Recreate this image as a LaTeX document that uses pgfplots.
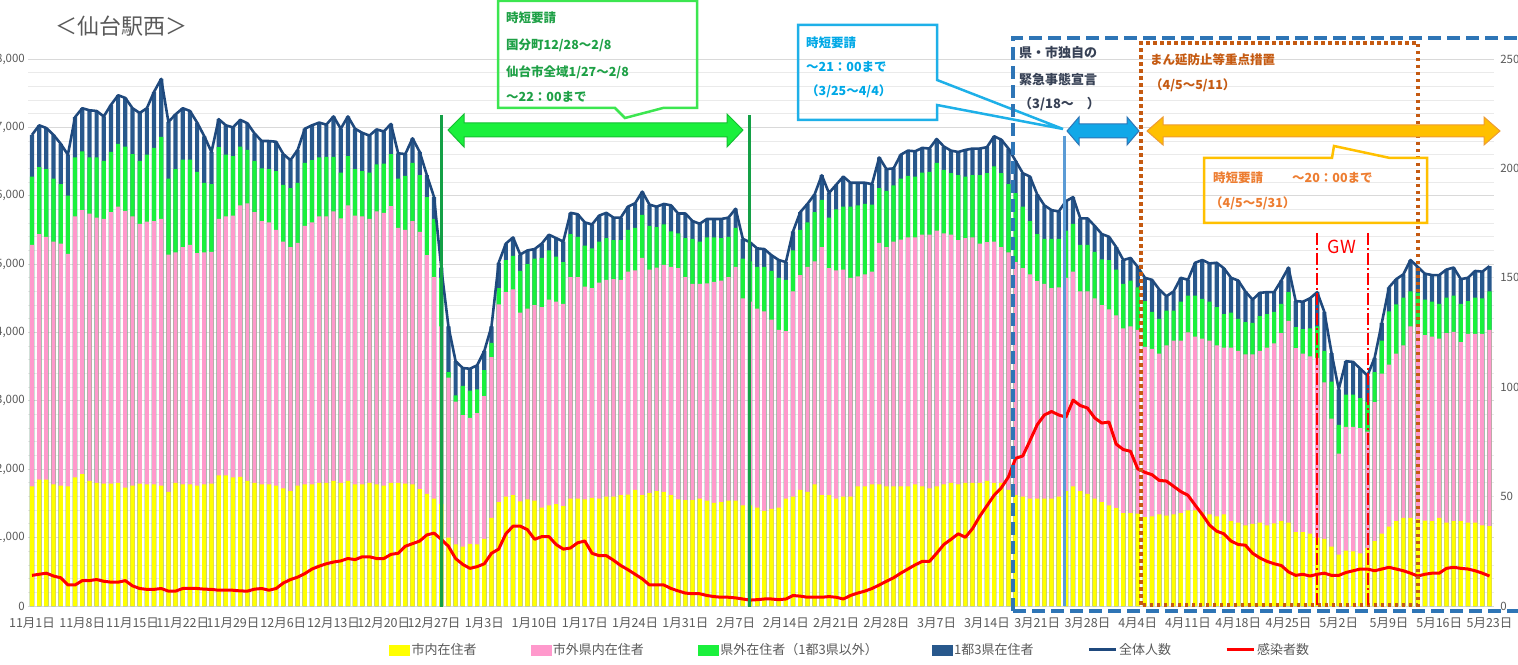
\documentclass[border=0pt]{standalone}
\usepackage{fontspec}
\setmainfont{Noto Sans CJK JP}
\usepackage{pgfplots}
\pgfplotsset{compat=1.18}
\usepackage{pgfplotstable}

\definecolor{cYel}{RGB}{255,255,0}
\definecolor{cPink}{RGB}{255,153,204}
\definecolor{cGreen}{RGB}{26,240,60}
\definecolor{cNavy}{RGB}{40,88,140}
\definecolor{cLine}{RGB}{31,73,125}
\definecolor{cGrey}{RGB}{89,89,89}
\definecolor{cGrid}{RGB}{217,217,217}
\definecolor{cGrid2}{RGB}{234,234,234}
\definecolor{cGline}{RGB}{20,160,70}
\definecolor{cGtext}{RGB}{30,160,70}
\definecolor{cGbox}{RGB}{60,230,80}
\definecolor{cGdark}{RGB}{20,190,50}
\definecolor{cBtext}{RGB}{0,168,230}
\definecolor{cBbox}{RGB}{30,176,232}
\definecolor{cBdash}{RGB}{46,117,182}
\definecolor{cBline}{RGB}{91,155,213}
\definecolor{cBfill}{RGB}{17,168,232}
\definecolor{cSlate}{RGB}{55,65,85}
\definecolor{cOdot}{RGB}{197,90,17}
\definecolor{cOfill}{RGB}{255,192,0}
\definecolor{cOedge}{RGB}{237,155,51}
\definecolor{cOtext}{RGB}{237,125,49}

% d = days since 11/1; Y,P,G,T = cumulative bar tops; R = infections (right axis)
\pgfplotstableread{
d Y P G T R
0 1750 5280 6280 6890 14.0
1 1850 5440 6420 7030 14.5
2 1850 5400 6390 6990 15.0
3 1780 5330 6250 6890 13.7
4 1760 5300 6170 6760 12.9
5 1750 5150 6000 6600 9.6
6 1880 5700 6560 7150 9.6
7 1930 5790 6650 7280 11.6
8 1830 5740 6560 7250 11.6
9 1800 5680 6560 7240 12.1
10 1790 5660 6510 7160 11.3
11 1790 5760 6640 7330 10.9
12 1800 5840 6760 7470 10.9
13 1730 5780 6720 7430 11.6
14 1760 5700 6610 7280 9.2
15 1790 5590 6510 7210 8.0
16 1780 5620 6600 7280 7.6
17 1780 5630 6700 7520 7.6
18 1760 5660 6860 7710 8.0
19 1670 5140 6250 7080 6.8
20 1800 5170 6390 7190 6.8
21 1780 5250 6530 7280 8.0
22 1780 5280 6530 7240 8.0
23 1760 5160 6350 7070 8.0
24 1780 5170 6190 6870 7.7
25 1790 5180 6170 6640 7.6
26 1910 5660 6710 7120 7.2
27 1910 5700 6600 7030 7.2
28 1880 5710 6580 7000 7.2
29 1890 5860 6720 7110 6.9
30 1830 5890 6670 7060 6.8
31 1800 5760 6510 6910 7.7
32 1780 5630 6400 6800 8.0
33 1780 5610 6390 6800 7.2
34 1760 5500 6360 6790 8.0
35 1720 5330 6160 6610 10.5
36 1680 5250 6110 6520 12.1
37 1760 5310 6190 6670 13.2
38 1780 5560 6480 6980 14.8
39 1780 5610 6520 7030 16.9
40 1800 5700 6560 7070 18.2
41 1800 5700 6570 7040 19.3
42 1830 5770 6570 7160 20.1
43 1800 5670 6340 6980 20.6
44 1830 5860 6580 7160 21.7
45 1780 5710 6390 6980 21.2
46 1780 5700 6360 6920 22.5
47 1800 5660 6340 6880 22.5
48 1780 5770 6460 6970 21.7
49 1760 5750 6470 6940 21.7
50 1800 5850 6610 7050 23.6
51 1800 5530 6250 6620 24.1
52 1790 5500 6290 6610 27.3
53 1780 5630 6480 6840 28.5
54 1710 5470 6300 6640 29.7
55 1640 5130 5980 6300 32.5
56 1570 4810 5660 5980 33.3
57 1490 4090 4800 4950 30.5
58 1000 3340 3420 4090 27.3
59 900 2990 3080 3580 21.7
60 870 2790 3220 3480 19.0
61 910 2750 3150 3470 17.2
62 900 2820 3170 3520 18.0
63 980 3070 3450 3730 19.3
64 1290 3640 3850 4090 24.1
65 1520 4410 4650 5020 26.0
66 1600 4590 5060 5300 33.0
67 1620 4630 5120 5390 36.5
68 1530 4290 4900 5140 36.5
69 1560 4350 5000 5200 34.9
70 1540 4400 5080 5220 30.5
71 1440 4370 5090 5300 31.7
72 1470 4480 5200 5430 31.7
73 1490 4450 5110 5380 28.1
74 1460 4420 5030 5330 26.0
75 1570 4810 5440 5750 26.5
76 1570 4810 5400 5730 28.9
77 1560 4670 5270 5610 29.7
78 1580 4650 5230 5580 24.1
79 1570 4730 5330 5710 23.0
80 1600 4770 5380 5750 23.0
81 1600 4780 5350 5680 20.9
82 1620 4770 5350 5680 18.5
83 1630 4890 5500 5840 16.6
84 1700 4910 5530 5890 14.5
85 1620 5090 5720 6060 12.4
86 1650 4920 5560 5870 9.6
87 1680 4950 5540 5840 9.6
88 1670 4990 5580 5880 9.6
89 1620 4960 5480 5860 8.0
90 1560 4940 5450 5740 6.9
91 1550 4810 5380 5740 5.9
92 1550 4710 5370 5630 5.6
93 1570 4710 5330 5590 5.6
94 1540 4720 5390 5660 4.8
95 1510 4740 5390 5660 4.3
96 1520 4760 5380 5660 4.0
97 1540 4810 5400 5680 4.0
98 1540 4960 5530 5810 3.7
99 1470 4500 5080 5370 3.2
100 1470 4450 5040 5320 2.7
101 1440 4350 4960 5230 2.9
102 1390 4310 4960 5220 3.2
103 1420 4190 4900 5130 3.2
104 1440 4040 4800 5060 2.9
105 1570 4020 4770 5030 3.2
106 1600 4600 5200 5480 4.8
107 1700 4840 5500 5760 4.5
108 1670 4960 5610 5880 4.0
109 1780 5040 5760 6020 4.0
110 1620 5250 5940 6300 4.0
111 1620 4940 5680 6040 4.3
112 1570 4910 5800 6160 4.0
113 1600 4920 5840 6280 3.2
114 1600 4800 5840 6190 4.8
115 1750 4820 5860 6190 5.9
116 1750 4850 5880 6190 6.8
117 1780 4890 5870 6170 8.0
118 1780 5310 6110 6560 9.6
119 1750 5250 6070 6390 11.3
120 1750 5330 6150 6400 12.9
121 1750 5360 6250 6600 15.0
122 1750 5390 6290 6660 16.9
123 1780 5390 6280 6650 18.8
124 1750 5430 6340 6700 20.4
125 1720 5430 6350 6690 20.4
126 1750 5490 6480 6830 24.1
127 1780 5450 6380 6720 28.1
128 1800 5430 6330 6660 30.5
129 1780 5350 6300 6640 33.0
130 1800 5380 6280 6670 31.4
131 1800 5390 6300 6690 35.4
132 1800 5300 6300 6690 41.0
133 1830 5320 6330 6710 45.8
134 1800 5330 6430 6870 50.6
135 1800 5250 6330 6820 54.0
136 1700 5170 6170 6690 59.0
137 1620 5030 6040 6510 67.5
138 1600 4940 5840 6330 68.6
139 1570 4850 5630 6280 75.6
140 1570 4750 5440 6020 82.8
141 1570 4710 5370 5860 87.3
142 1570 4650 5370 5790 88.9
143 1600 4660 5370 5770 87.3
144 1680 4800 5490 5920 86.3
145 1750 4890 5590 5980 94.1
146 1680 4600 5280 5670 91.6
147 1640 4600 5280 5670 90.5
148 1570 4500 5180 5560 86.0
149 1520 4400 5070 5440 83.6
150 1470 4340 5060 5400 84.1
151 1430 4250 4920 5250 74.0
152 1360 4060 4710 5060 71.5
153 1360 4090 4760 5090 70.7
154 1350 4040 4660 4960 62.7
155 1300 3790 4460 4800 61.1
156 1310 3760 4300 4770 60.0
157 1340 3690 4200 4630 57.4
158 1320 3810 4320 4530 57.1
159 1340 3880 4320 4600 54.7
160 1360 3880 4450 4800 52.3
161 1400 4000 4540 4770 50.6
162 1400 3940 4540 5020 46.1
163 1370 3910 4490 5060 41.8
164 1340 3880 4450 5010 37.0
165 1310 3810 4370 5020 34.2
166 1340 3780 4270 4940 33.0
167 1240 3780 4290 4800 29.7
168 1220 3730 4200 4760 28.1
169 1180 3680 4150 4600 27.8
170 1200 3680 4140 4480 24.1
171 1220 3730 4240 4580 22.0
172 1180 3780 4270 4590 20.4
173 1210 3840 4300 4590 19.3
174 1240 3990 4420 4760 18.5
175 1220 4170 4590 4950 15.6
176 1080 3770 4080 4460 14.0
177 1080 3690 4050 4450 14.5
178 1060 3650 4060 4500 13.7
179 1000 3630 4090 4590 14.5
180 980 3270 3730 4300 15.0
181 870 2740 3280 3700 14.0
182 750 2230 2650 3170 14.0
183 810 2620 3090 3580 15.3
184 800 2620 3090 3570 16.1
185 770 2600 3040 3470 16.9
186 850 2550 2980 3370 16.9
187 950 2980 3420 3630 16.1
188 1060 3400 3880 4140 16.9
189 1160 3530 4310 4660 17.7
190 1240 3690 4410 4780 16.9
191 1290 3810 4510 4850 16.1
192 1290 4090 4600 5060 15.0
193 1270 4120 4580 4960 13.7
194 1250 3960 4480 4860 14.5
195 1240 3940 4450 4840 15.0
196 1290 3910 4420 4840 15.0
197 1220 3990 4510 4920 17.2
198 1240 4010 4540 4950 17.7
199 1240 3860 4420 4780 17.2
200 1220 3980 4460 4800 16.9
201 1220 3980 4510 4900 16.1
202 1180 3980 4500 4890 15.0
203 1170 4040 4600 4970 13.7
}\sendai

\pgfplotsset{
  base/.style={
    at={(28.4pt,58pt)}, anchor=south west,
    scale only axis, width=1465.4pt, height=547pt,
    xmin=-0.5, xmax=203.6,
    tick style={draw=none},
    tick label style={text=cGrey, font=\fontsize{11.5}{13}\selectfont},
    /pgf/number format/assume math mode=true,
    /pgf/number format/1000 sep={,},
  },
  bar/.style={fill=#1, draw=none, bar shift=0pt},
}

\begin{document}
\begin{tikzpicture}[font=\fontsize{12.5}{15}\selectfont]
\begin{axis}[base,
  ymin=0, ymax=8000,
  ybar, bar width=4.2pt,
  axis x line*=bottom, axis y line*=left,
  x axis line style={draw=cGrid, line width=1pt, -},
  y axis line style={draw=none},
  xtick={0,7,...,203},
  xticklabels={11月1日,11月8日,11月15日,11月22日,11月29日,12月6日,12月13日,12月20日,12月27日,1月3日,1月10日,1月17日,1月24日,1月31日,2月7日,2月14日,2月21日,2月28日,3月7日,3月14日,3月21日,3月28日,4月4日,4月11日,4月18日,4月25日,5月2日,5月9日,5月16日,5月23日},
  xticklabel style={yshift=-4pt, font=\fontsize{12.5}{14}\selectfont},
  ytick={0,1000,...,8000}, minor y tick num=4,
  ymajorgrids, yminorgrids,
  major grid style={draw=cGrid, line width=0.9pt},
  minor grid style={draw=cGrid2, line width=0.9pt},
]
\addplot[bar=cNavy] table[x=d,y=T]{\sendai};
\addplot[bar=cGreen] table[x=d,y=G]{\sendai};
\addplot[bar=cPink] table[x=d,y=P]{\sendai};
\addplot[bar=cYel] table[x=d,y=Y]{\sendai};
\addplot[sharp plot, cLine, line width=2.6pt, line join=round] table[x=d,y=T]{\sendai};
\end{axis}

\begin{axis}[base,
  ymin=0, ymax=250,
  axis x line=none, axis y line*=right,
  y axis line style={draw=none},
  ytick={0,50,...,250},
  yticklabel style={xshift=3pt},
  legend columns=-1,
  legend style={at={(0.2440,-0.080)}, anchor=west, draw=none, fill=none,
    text=cGrey, font=\fontsize{13}{15}\selectfont,
    /tikz/every even column/.append style={column sep=52pt}},
]
\addlegendimage{legend image code/.code={\fill[cYel] (0pt,-5pt) rectangle (20pt,5pt);}}
\addlegendentry{市内在住者}
\addlegendimage{legend image code/.code={\fill[cPink] (0pt,-5pt) rectangle (20pt,5pt);}}
\addlegendentry{市外県内在住者}
\addlegendimage{legend image code/.code={\fill[cGreen] (0pt,-5pt) rectangle (20pt,5pt);}}
\addlegendentry{県外在住者（1都3県以外）}
\addlegendimage{legend image code/.code={\fill[cNavy] (0pt,-5pt) rectangle (20pt,5pt);}}
\addlegendentry{1都3県在住者}
\addlegendimage{legend image code/.code={\draw[cLine, line width=2.6pt] (0pt,0pt) -- (27pt,0pt);}}
\addlegendentry{全体人数}
\addplot[red, line width=3pt, line join=round, mark=none,
  legend image code/.code={\draw[red, line width=3pt] (0pt,0pt) -- (27pt,0pt);}]
  table[x=d,y=R]{\sendai};
\addlegendentry{感染者数}
\end{axis}

\begin{scope}[shift={(0pt,664pt)}, x=1pt, y=-1pt]
  % title
  \node[text=cGrey, font=\fontsize{22}{26}\selectfont] at (121,26) {＜仙台駅西＞};
  % 12/28 - 2/8
  \draw[cGline, line width=3pt] (441,115) -- (441,607);
  \draw[cGline, line width=3pt] (749,115) -- (749,607);
  \filldraw[fill=cGreen, draw=cGdark, line width=1pt]
    (448,130) -- (464,114) -- (464,123) -- (727,123) -- (727,114) -- (743,130)
    -- (727,147) -- (727,137) -- (464,137) -- (464,147) -- cycle;
  \draw[cGbox, line width=2.5pt, line join=miter]
    (498,1) -- (697,1) -- (697,108) -- (663,108) -- (625,118) -- (615,108) -- (498,108) -- cycle;
  \begin{scope}[every node/.style={anchor=west, text=cGtext, font=\fontsize{12.5}{15}\selectfont\bfseries, inner sep=0pt}]
    \node at (506,18) {時短要請};
    \node at (506,45) {国分町12/28～2/8};
    \node at (506,72) {仙台市全域1/27～2/8};
    \node at (506,97) {～22：00まで};
  \end{scope}
  % 3/25 - 4/4
  \draw[cBbox, line width=2.5pt, line join=miter]
    (798,25) -- (937,25) -- (937,80) -- (1063,129) -- (937,105) -- (937,120) -- (798,120) -- cycle;
  \begin{scope}[every node/.style={anchor=west, text=cBtext, font=\fontsize{12.5}{15}\selectfont\bfseries, inner sep=0pt}]
    \node at (806,43) {時短要請};
    \node at (806,67) {～21：00まで};
    \node at (806,91) {（3/25～4/4）};
  \end{scope}
  \draw[cBline, line width=3pt] (1064,136) -- (1064,606);
  \filldraw[fill=cBfill, draw=cBdash, line width=1pt]
    (1067,131) -- (1079,117) -- (1079,124) -- (1127,124) -- (1127,117) -- (1139,131)
    -- (1127,145) -- (1127,138) -- (1079,138) -- (1079,145) -- cycle;
  % state / city emergency
  \draw[cBdash, line width=3.5pt, dash pattern=on 13pt off 6pt] (1013,611) -- (1013,38) -- (1540,38);
  \draw[cBdash, line width=3.5pt, dash pattern=on 13pt off 6pt] (1013,611) -- (1540,611);
  \begin{scope}[every node/.style={anchor=west, text=cSlate, font=\fontsize{13}{15}\selectfont\bfseries, inner sep=0pt}]
    \node at (1019,53) {県・市独自の};
    \node at (1019,80) {緊急事態宣言};
    \node at (1019,104) {（3/18～　）};
  \end{scope}
  % 4/5 - 5/11
  \draw[cOdot, line width=3.5pt, dash pattern=on 3.5pt off 3.5pt] (1141,605) -- (1141,43) -- (1418,43) -- (1418,605) -- cycle;
  \begin{scope}[every node/.style={anchor=west, text=cOdot, font=\fontsize{12.5}{15}\selectfont\bfseries, inner sep=0pt}]
    \node at (1150,60) {まん延防止等重点措置};
    \node at (1150,85) {（4/5～5/11）};
  \end{scope}
  \filldraw[fill=cOfill, draw=cOedge, line width=1pt]
    (1147,131) -- (1163,117) -- (1163,125) -- (1484,125) -- (1484,117) -- (1500,131)
    -- (1484,145) -- (1484,137) -- (1163,137) -- (1163,145) -- cycle;
  \draw[cOfill, line width=2.5pt, line join=miter]
    (1204,158) -- (1332,158) -- (1334,146) -- (1390,158) -- (1427,158) -- (1427,223) -- (1204,223) -- cycle;
  \begin{scope}[every node/.style={anchor=west, text=cOtext, font=\fontsize{12.5}{15}\selectfont\bfseries, inner sep=0pt}]
    \node at (1213,178) {時短要請};
    \node at (1292,178) {～20：00まで};
    \node at (1210,203) {（4/5～5/31）};
  \end{scope}
  % GW
  \draw[red, line width=2pt, dash pattern=on 12pt off 3pt on 2pt off 3pt] (1317,233) -- (1317,606);
  \draw[red, line width=2pt, dash pattern=on 12pt off 3pt on 2pt off 3pt] (1368,233) -- (1368,606);
  \node[text=red, font=\fontsize{18}{20}\selectfont] at (1342,247) {GW};
\end{scope}
\pgfresetboundingbox
\useasboundingbox (0pt,0pt) rectangle (1518pt,664pt);
\end{tikzpicture}
\end{document}
